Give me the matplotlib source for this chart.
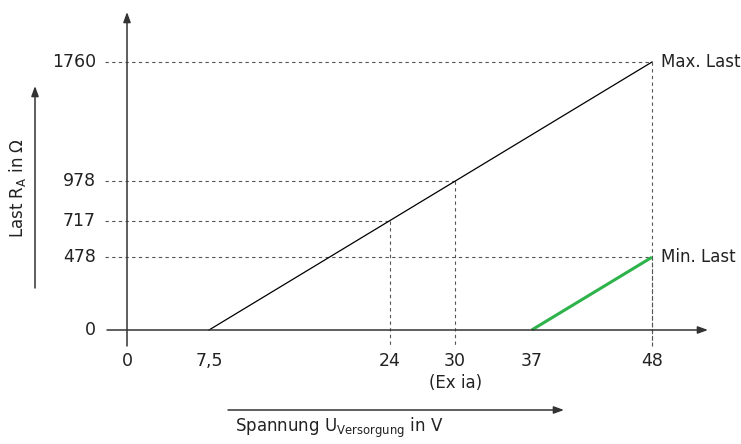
import matplotlib.pyplot as plt

# values
u_ticks = [0, 7.5, 24, 30, 37, 48]
u_labels = ['0', '7,5', '24', '30', '37', '48']
r_ticks = [0, 478, 717, 978, 1760]
r_labels = ['0', '478', '717', '978', '1760']

max_u = [7.5, 48]
max_r = [0, 1760]
min_u = [37, 48]
min_r = [0, 478]

# guide points (dashed helper lines)
guide_u = [24, 30, 48, 48]
guide_r = [717, 978, 1760, 478]

axis_col = '#333333'
dash_col = '#555555'
green = '#2db34a'

plt.rcParams['font.family'] = ['DejaVu Sans']
plt.rcParams['mathtext.fontset'] = 'dejavusans'

fig = plt.figure(figsize=(7.41, 4.44), dpi=100)
ax = fig.add_axes([0, 0, 1, 1])
ax.axis('off')

# pixel mapping of the reference: u=0 -> 127px, u=48 -> 652px ; r=0 -> 330px, r=1760 -> 62px
sx = (652 - 127) / 48.
sy = (330 - 62) / 1760.
ax.set_xlim(-127 / sx, (741 - 127) / sx)
ax.set_ylim(-(444 - 330) / sy, 330 / sy)

def px(x): return (x - 127) / sx
def py(y): return (330 - y) / sy

arrow = dict(arrowstyle='-|>,head_length=0.6,head_width=0.22', color=axis_col, lw=1.1,
             shrinkA=0, shrinkB=0)

# axes with arrows
ax.annotate('', xy=(0, py(12)), xytext=(0, py(346)), arrowprops=arrow)
ax.annotate('', xy=(px(708), 0), xytext=(px(107), 0), arrowprops=arrow)

# dashed guides
for u, r in zip(guide_u, guide_r):
    ax.plot([px(105), u], [r, r], color=dash_col, lw=0.8, ls=(0, (3, 3)))
    ax.plot([u, u], [r, py(346)], color=dash_col, lw=0.8, ls=(0, (3, 3)))

# load lines
ax.plot(max_u, max_r, color='black', lw=0.9)
ax.plot(min_u, min_r, color=green, lw=2.2, solid_capstyle='butt')

# tick labels
for v, s in zip(r_ticks, r_labels):
    ax.annotate(s, (0, v), xytext=(-22.5, 0), textcoords='offset points',
                ha='right', va='center', fontsize=12.5, color='#222222')
for v, s in zip(u_ticks, u_labels):
    ax.annotate(s, (v, 0), xytext=(0, -16), textcoords='offset points',
                ha='center', va='top', fontsize=12.5, color='#222222')
ax.annotate('(Ex ia)', (30, 0), xytext=(0, -32), textcoords='offset points',
            ha='center', va='top', fontsize=12, color='#222222')

ax.annotate('Max. Last', (48, 1760), xytext=(6.5, 0), textcoords='offset points',
            ha='left', va='center', fontsize=12, color='#222222')
ax.annotate('Min. Last', (48, 478), xytext=(6.5, 0), textcoords='offset points',
            ha='left', va='center', fontsize=12, color='#222222')

# axis titles with side arrows
ax.annotate('', xy=(px(35), py(86)), xytext=(px(35), py(288)), arrowprops=arrow)
ax.annotate('', xy=(px(564), py(410)), xytext=(px(228), py(410)), arrowprops=arrow)
ax.text(px(18), py(188), r'Last R$_{\mathrm{A}}$ in $\Omega$', rotation=90,
        ha='center', va='center', fontsize=12, color='#222222')
ax.text(px(235), py(428), r'Spannung U$_{\mathrm{Versorgung}}$ in V',
        ha='left', va='center', fontsize=12, color='#222222')

fig.savefig('out.png', dpi=100)
